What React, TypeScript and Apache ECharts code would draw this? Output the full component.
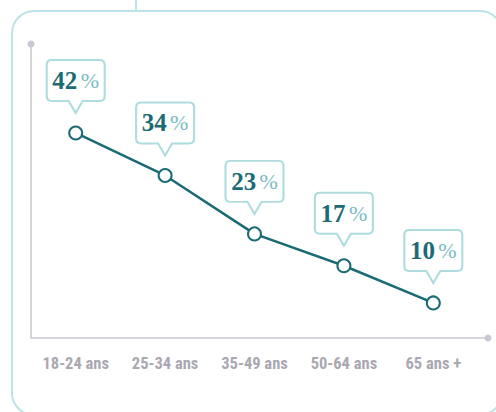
import React, { useEffect, useRef } from "react";
import * as echarts from "echarts";

const categories = ["18-24 ans", "25-34 ans", "35-49 ans", "50-64 ans", "65 ans +"];
const values = [42, 34, 23, 17, 10];

const DARK = "#1b6b74";
const LIGHT = "#79bcc4";
const FRAME = "#bce3e6";
const AXIS = "#c9c7d1";
const LABEL = "#a9a8b1";

const CALLOUT =
  "path://M5,0 H53 Q58,0 58,5 V36 Q58,41 53,41 H36 L29,53 L22,41 H5 Q0,41 0,36 V5 Q0,0 5,0 Z";

export default function App() {
  const ref = useRef<HTMLDivElement>(null);
  useEffect(() => {
    if (!ref.current) return;
    const chart = echarts.init(ref.current, null, { renderer: "svg" });
    chart.setOption({
      animation: false,
      backgroundColor: "#ffffff",
      grid: { left: 31, top: 44, width: 447, height: 294 },
      xAxis: {
        type: "category",
        data: categories,
        boundaryGap: true,
        axisLine: { show: false },
        axisTick: { show: false },
        axisLabel: {
          interval: 0,
          color: LABEL,
          fontWeight: "bold",
          fontSize: 16.5,
          fontFamily: "'Roboto Condensed', 'Liberation Sans Narrow', 'DejaVu Sans Condensed', sans-serif",
          margin: 17,
        },
      },
      yAxis: {
        type: "value",
        min: 3.4,
        max: 58.75,
        splitLine: { show: false },
        axisTick: { show: false },
        axisLabel: { show: false },
        axisLine: {
          show: true,
          symbol: ["none", "circle"],
          symbolSize: [7, 7],
          lineStyle: { color: AXIS, width: 1.5 },
        },
      },
      graphic: [
        {
          type: "rect",
          z: -10,
          shape: { x: 12, y: 11, width: 490, height: 404, r: 22 },
          style: { fill: "none", stroke: FRAME, lineWidth: 2 },
        },
        {
          type: "line",
          z: -10,
          shape: { x1: 136, y1: 0, x2: 136, y2: 11 },
          style: { stroke: FRAME, lineWidth: 2 },
        },
        {
          type: "line",
          shape: { x1: 31, y1: 338, x2: 488, y2: 338 },
          style: { stroke: AXIS, lineWidth: 1.5 },
        },
        {
          type: "circle",
          shape: { cx: 488, cy: 338, r: 3.5 },
          style: { fill: AXIS },
        },
      ],
      series: [
        {
          type: "line",
          data: values,
          symbol: "emptyCircle",
          symbolSize: 13,
          lineStyle: { color: DARK, width: 2.5 },
          itemStyle: { color: DARK, borderWidth: 2.5 },
          z: 3,
          markPoint: {
            symbol: CALLOUT,
            symbolSize: [58, 53],
            symbolOffset: [0, -46.5],
            itemStyle: { color: "#ffffff", borderColor: "#aedcdf", borderWidth: 2 },
            label: {
              show: true,
              position: "inside",
              offset: [0, -6],
              formatter: (p: any) => `{v|${p.value}}{s| }{p|%}`,
              rich: {
                v: {
                  fontFamily: "'Liberation Serif', serif",
                  fontWeight: "bold",
                  fontSize: 25,
                  color: DARK,
                },
                s: { fontSize: 12 },
                p: {
                  fontFamily: "'Liberation Serif', serif",
                  fontWeight: "normal",
                  fontSize: 22,
                  color: LIGHT,
                },
              },
            },
            data: values.map((v, i) => ({ coord: [categories[i], v], value: v })),
          },
        },
      ],
    });
    return () => chart.dispose();
  }, []);
  return (
    <div
      ref={ref}
      style={{ position: "fixed", left: 0, top: 0, width: 496, height: 412 }}
    />
  );
}
